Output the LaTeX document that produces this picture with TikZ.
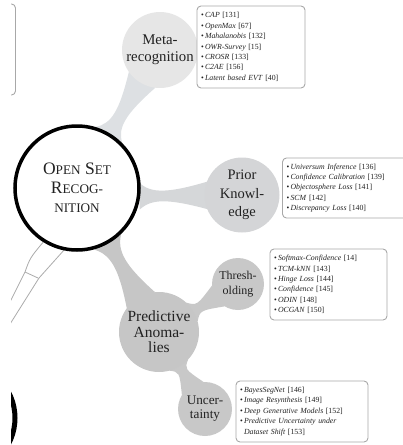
\documentclass[tikz,border=0pt]{standalone}
\usepackage{fontspec}
\setmainfont{Liberation Serif}
\usetikzlibrary{calc}
\pgfdeclarelayer{background}
\pgfsetlayers{background,main}
\definecolor{metac}{HTML}{E6E6E6}
\definecolor{metabar}{HTML}{DDE0E3}
\definecolor{priorc}{HTML}{D4D5D7}
\definecolor{priorbar}{HTML}{D5D7D9}
\definecolor{predc}{HTML}{C6C6C6}
\definecolor{subc}{HTML}{C8C8C8}
\definecolor{boxline}{HTML}{A8A8A8}
\definecolor{thinline}{HTML}{ABABAB}
\definecolor{txt}{HTML}{222222}
\newcommand\fsc[1]{{\fontsize{13.2}{19}\selectfont #1}}
% #1 fill colour, #2 node a, #3 radius a, #4 half angle at a, #5 node b, #6 radius b, #7 half angle at b, #8 waist offset, #9 control fraction
\newcommand\mmbar[9]{%
  \fill[#1] ($(#2)!#3!#4:(#5)$)
    .. controls ($(#2)!#9!(#5)!#8!90:(#5)$) and ($(#5)!#9!(#2)!#8!-90:(#2)$) ..
    ($(#5)!#6!-#7:(#2)$) -- ($(#5)!#6!#7:(#2)$)
    .. controls ($(#5)!#9!(#2)!#8!90:(#2)$) and ($(#2)!#9!(#5)!#8!-90:(#5)$) ..
    ($(#2)!#3!-#4:(#5)$) -- cycle;}
\begin{document}
\begin{tikzpicture}[x=1pt,y=-1pt,
  concept/.style={circle, inner sep=0pt, align=center, text=txt},
  refbox/.style={draw=boxline, line width=0.9pt, rounded corners=4pt, fill=white,
    inner xsep=4pt, inner ysep=3pt, align=left, text=txt,
    font=\fontsize{7.8}{10.4}\selectfont},
  thin/.style={draw=thinline, line width=0.8pt}]
\useasboundingbox (0,0) rectangle (403,445);
\begin{scope}
\clip (11,0) rectangle (403,445);
% nodes
\node[concept, draw=black, line width=3.5pt, minimum size=124pt,
  font=\fontsize{17.5}{19}\selectfont] (root) at (77,188)
  {O\fsc{PEN} S\fsc{ET}\\R\fsc{ECOG-}\\\fsc{NITION}};
\node[concept, fill=metac, minimum size=76pt, font=\fontsize{14.8}{17}\selectfont]
  (meta) at (160,50) {Meta-\\recognition};
\node[concept, fill=priorc, minimum size=75pt, font=\fontsize{14.5}{18.5}\selectfont]
  (prior) at (242,195) {Prior\\Knowl-\\edge};
\node[concept, fill=predc, minimum size=80pt, font=\fontsize{15.5}{15.5}\selectfont]
  (pred) at (159,332) {Predictive\\Anoma-\\lies};
\node[concept, fill=subc, minimum size=52pt, font=\fontsize{12}{15}\selectfont]
  (thresh) at (238,284) {Thresh-\\olding};
\node[concept, fill=subc, minimum size=54pt, font=\fontsize{13.2}{14}\selectfont]
  (unc) at (205,409) {Uncer-\\tainty};
% reference boxes
\node[refbox, text width=100pt, minimum height=82pt] (metabox) at (251,47)
  {\textbullet\,\textit{CAP} [131]\\
   \textbullet\,\textit{OpenMax} [67]\\
   \textbullet\,\textit{Mahalanobis} [132]\\
   \textbullet\,\textit{OWR-Survey} [15]\\
   \textbullet\,\textit{CROSR} [133]\\
   \textbullet\,\textit{C2AE} [156]\\
   \textbullet\,\textit{Latent based EVT} [40]};
\node[refbox, text width=117pt, minimum height=60pt] (priorbox) at (345,188)
  {\textbullet\,\textit{Universum Inference} [136]\\
   \textbullet\,\textit{Confidence Calibration} [139]\\
   \textbullet\,\textit{Objectosphere Loss} [141]\\
   \textbullet\,\textit{SCM} [142]\\
   \textbullet\,\textit{Discrepancy Loss} [140]};
\node[refbox, text width=109pt, minimum height=71pt] (threshbox) at (328.5,284.5)
  {\textbullet\,\textit{Softmax-Confidence} [14]\\
   \textbullet\,\textit{TCM-kNN} [143]\\
   \textbullet\,\textit{Hinge Loss} [144]\\
   \textbullet\,\textit{Confidence} [145]\\
   \textbullet\,\textit{ODIN} [148]\\
   \textbullet\,\textit{OCGAN} [150]};
\node[refbox, text width=124pt, minimum height=61pt] (uncbox) at (302,411.5)
  {\textbullet\,\textit{BayesSegNet} [146]\\
   \textbullet\,\textit{Image Resynthesis} [149]\\
   \textbullet\,\textit{Deep Generative Models} [152]\\
   \textbullet\,\textit{Predictive Uncertainty under}\\
   \phantom{\textbullet\,}\textit{Dataset Shift} [153]};
\end{scope}
\begin{pgfonlayer}{background}
\begin{scope}
\clip (11,0) rectangle (403,445);
\coordinate (rootlow) at ($(root.center)+(0,9)$);
\mmbar{metabar}{root}{64pt}{14}{meta}{38pt}{24}{3.5pt}{0.45}
\mmbar{priorbar}{rootlow}{64pt}{12}{prior}{37pt}{22}{2.6pt}{0.45}
\mmbar{predc}{root}{64pt}{14}{pred}{40pt}{24}{3.5pt}{0.45}
\mmbar{subc}{pred}{40pt}{16}{thresh}{26pt}{28}{2.9pt}{0.5}
\mmbar{subc}{pred}{40pt}{16}{unc}{27pt}{28}{2.9pt}{0.5}
% outlined connector leaving to the lower left
\coordinate (wl) at (0,322);
\coordinate (wr) at (0,340);
\draw[thin] (root.238) .. controls (30,258) .. (25,272) -- (wl);
\draw[thin] (root.258) .. controls (52,264) .. (39,278) -- (wr);
\draw[thin] (25,272) -- (38,278);
% box and concept cut by the left edge
\draw[draw=boxline, line width=0.9pt, rounded corners=4pt] (-40,4) rectangle (15.5,95);
\draw[line width=5pt] (-40,418) circle (55pt);
\end{scope}
\end{pgfonlayer}
\end{tikzpicture}
\end{document}
